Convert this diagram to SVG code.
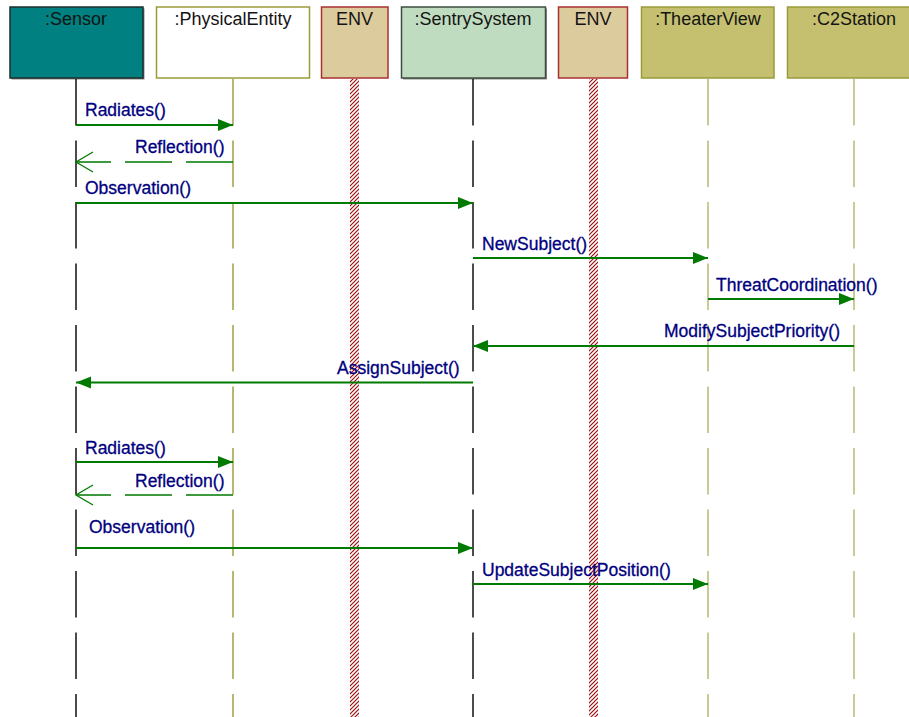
<svg xmlns="http://www.w3.org/2000/svg" width="909" height="717" viewBox="0 0 909 717">
  <style>
    .hdr { font-family: "Liberation Sans", Arial, sans-serif; font-size: 18px; fill: #141414; text-anchor: middle; }
    .lbl { font-family: "Liberation Sans", Arial, sans-serif; font-size: 17.5px; fill: #000080; stroke: #000080; stroke-width: 0.3; }
    .box { stroke-width: 1.5; }
    .shadow { fill: #8a8a8a; }
    .life { fill: none; stroke-width: 1.4; stroke-dasharray: 46.5 15; }
    .msg { fill: none; stroke: #007a00; stroke-width: 2; }
    .sync { marker-end: url(#filled); }
    .ret { stroke-width: 1.5; stroke-dasharray: 47 14; marker-end: url(#open); }
  </style>
  <defs>
    <pattern id="hatch" patternUnits="userSpaceOnUse" width="4" height="4">
      <rect width="4" height="4" fill="#ffffff"/>
      <path d="M-1,1 L1,-1 M0,4 L4,0 M3,5 L5,3" stroke="#a00c0c" stroke-width="1.2"/>
    </pattern>
    <marker id="filled" markerUnits="userSpaceOnUse" markerWidth="16" markerHeight="14" refX="15" refY="6.5" orient="auto">
      <path d="M0,0.5 L15,6.5 L0,12.5 Z" fill="#007a00"/>
    </marker>
    <marker id="open" markerUnits="userSpaceOnUse" markerWidth="20" markerHeight="22" refX="18" refY="10.5" orient="auto">
      <path d="M1,0.5 L18,10.5 L1,20.5" fill="none" stroke="#007a00" stroke-width="1.3"/>
    </marker>
  </defs>

  <rect width="909" height="717" fill="#ffffff"/>

  <!-- lifeline objects -->
  <g id="sensor">
    <rect class="shadow" x="11.5" y="8.5" width="133" height="71"/>
    <rect class="box" x="10" y="7" width="133" height="71" fill="#008080" stroke="#1e2e2e"/>
    <text class="hdr" x="76" y="25">:Sensor</text>
    <line class="life" x1="76" y1="79" x2="76" y2="717" stroke="#000000"/>
  </g>

  <g id="physical-entity">
    <rect class="box" x="156.5" y="7" width="153" height="71" fill="#ffffff" stroke="#9a9a3a"/>
    <text class="hdr" x="233" y="25">:PhysicalEntity</text>
    <line class="life" x1="233" y1="79" x2="233" y2="717" stroke="#9a9a3a"/>
  </g>

  <g id="env-1">
    <rect class="box" x="321.5" y="7" width="66.5" height="71" fill="#dccb9c" stroke="#a83030"/>
    <text class="hdr" x="354.5" y="25">ENV</text>
    <rect x="350" y="79" width="9" height="638" fill="url(#hatch)"/>
  </g>

  <g id="sentry-system">
    <rect class="shadow" x="403" y="8.5" width="144" height="71"/>
    <rect class="box" x="401.5" y="7" width="144" height="71" fill="#c0dcc0" stroke="#3e4e3e"/>
    <text class="hdr" x="473" y="25">:SentrySystem</text>
    <line class="life" x1="473" y1="79" x2="473" y2="717" stroke="#000000"/>
  </g>

  <g id="env-2">
    <rect class="box" x="558.5" y="7" width="69" height="71" fill="#dccb9c" stroke="#a83030"/>
    <text class="hdr" x="593" y="25">ENV</text>
    <rect x="589" y="79" width="9" height="638" fill="url(#hatch)"/>
  </g>

  <g id="theater-view">
    <rect class="box" x="641.5" y="7" width="132.5" height="71" fill="#c4c070" stroke="#9a9a3a"/>
    <text class="hdr" x="708" y="25">:TheaterView</text>
    <line class="life" x1="708" y1="79" x2="708" y2="717" stroke="#b4b468"/>
  </g>

  <g id="c2-station">
    <rect class="box" x="787.5" y="7" width="133" height="71" fill="#c4c070" stroke="#9a9a3a"/>
    <text class="hdr" x="854" y="25">:C2Station</text>
    <line class="life" x1="854" y1="79" x2="854" y2="717" stroke="#b4b468"/>
  </g>

  <!-- messages -->
  <g id="connectors">
    <line class="msg sync" x1="76" y1="125" x2="233" y2="125"/>
    <line class="msg ret" x1="233" y1="162" x2="76" y2="162"/>
    <line class="msg sync" x1="76" y1="203" x2="473" y2="203"/>
    <line class="msg sync" x1="473" y1="258" x2="708" y2="258"/>
    <line class="msg sync" x1="708" y1="299" x2="854" y2="299"/>
    <line class="msg sync" x1="854" y1="346" x2="473" y2="346"/>
    <line class="msg sync" x1="473" y1="382.5" x2="76" y2="382.5"/>
    <line class="msg sync" x1="76" y1="462" x2="233" y2="462"/>
    <line class="msg ret" x1="233" y1="495" x2="76" y2="495"/>
    <line class="msg sync" x1="76" y1="548" x2="473" y2="548"/>
    <line class="msg sync" x1="473" y1="584" x2="708" y2="584"/>

    <text class="lbl" x="85" y="116">Radiates()</text>
    <text class="lbl" x="135" y="153">Reflection()</text>
    <text class="lbl" x="85" y="194">Observation()</text>
    <text class="lbl" x="482" y="250">NewSubject()</text>
    <text class="lbl" x="716" y="291">ThreatCoordination()</text>
    <text class="lbl" x="664" y="337">ModifySubjectPriority()</text>
    <text class="lbl" x="337" y="374">AssignSubject()</text>
    <text class="lbl" x="85" y="454">Radiates()</text>
    <text class="lbl" x="135" y="487">Reflection()</text>
    <text class="lbl" x="89" y="533">Observation()</text>
    <text class="lbl" x="482" y="576">UpdateSubjectPosition()</text>
  </g>
</svg>
